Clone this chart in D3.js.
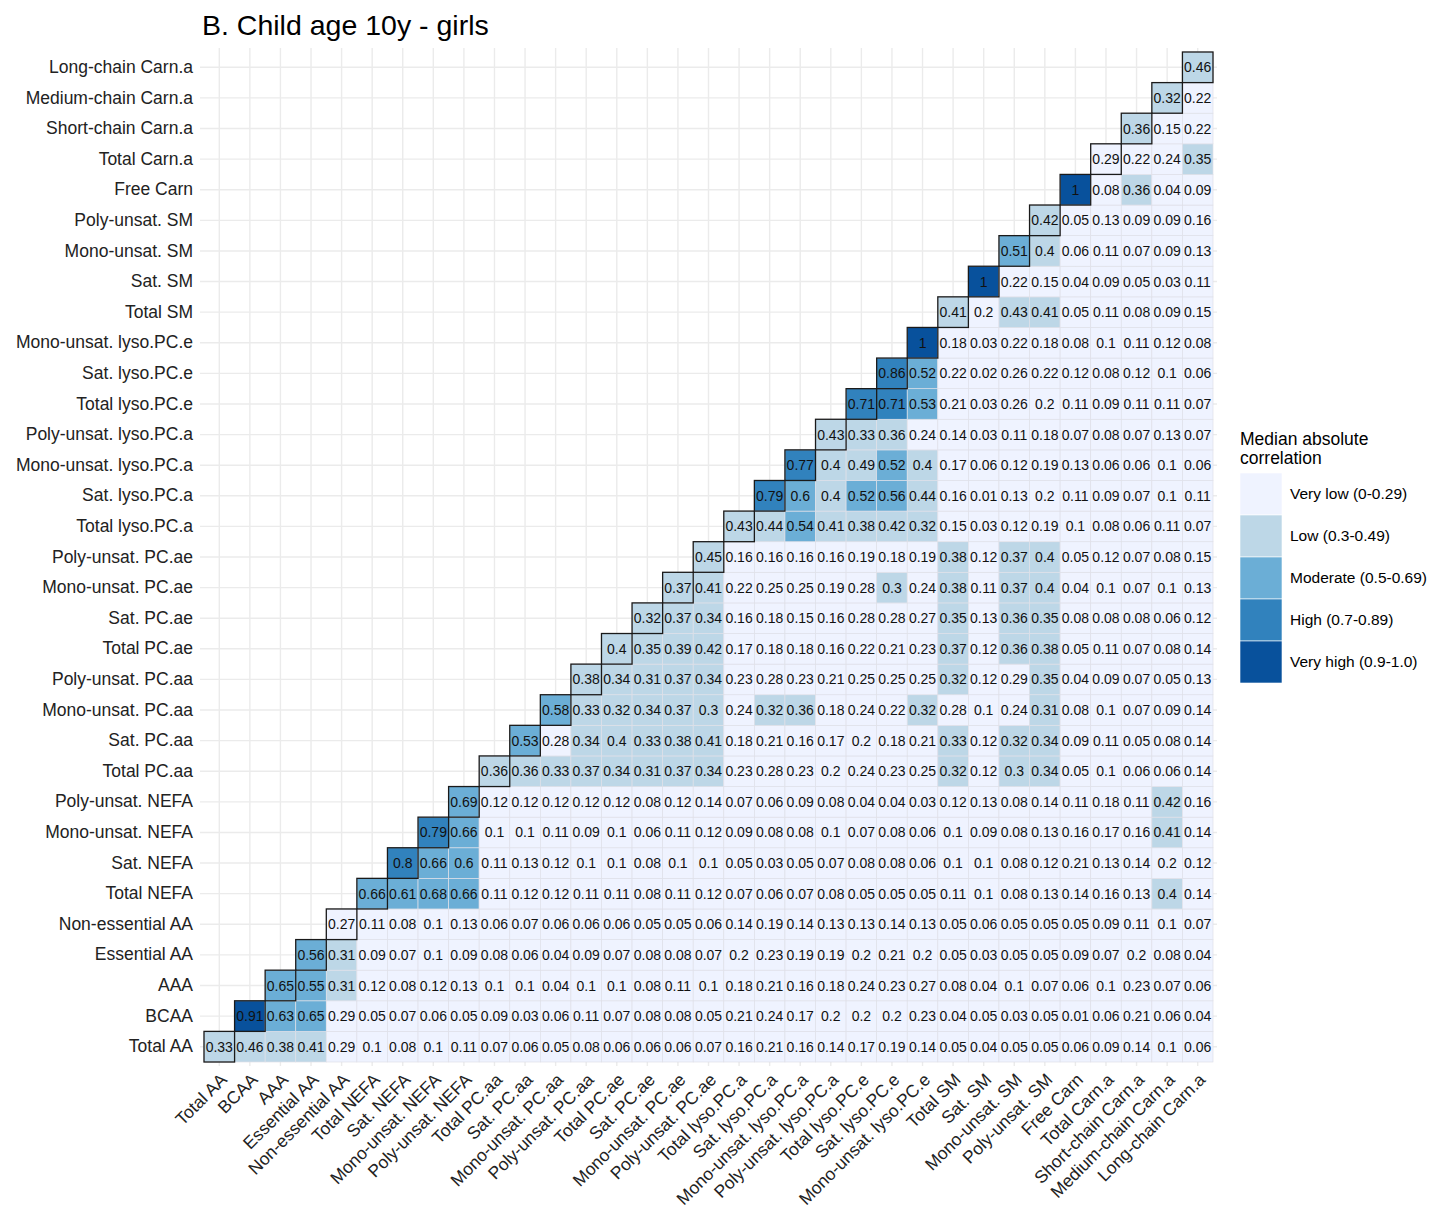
<!DOCTYPE html>
<html>
<head>
<meta charset="utf-8">
<script src="https://cdn.jsdelivr.net/npm/d3@7"></script>
<style>
    body { margin: 0; background: #fff; }
    text { font-family: "Liberation Sans", Arial, sans-serif; }
</style>
</head>
<body>
<svg id="chart" width="1436" height="1208"></svg>
<script>
const title = "B. Child age 10y - girls";

const categories = [
    "Total AA", "BCAA", "AAA", "Essential AA", "Non-essential AA",
    "Total NEFA", "Sat. NEFA", "Mono-unsat. NEFA", "Poly-unsat. NEFA",
    "Total PC.aa", "Sat. PC.aa", "Mono-unsat. PC.aa", "Poly-unsat. PC.aa",
    "Total PC.ae", "Sat. PC.ae", "Mono-unsat. PC.ae", "Poly-unsat. PC.ae",
    "Total lyso.PC.a", "Sat. lyso.PC.a", "Mono-unsat. lyso.PC.a", "Poly-unsat. lyso.PC.a",
    "Total lyso.PC.e", "Sat. lyso.PC.e", "Mono-unsat. lyso.PC.e",
    "Total SM", "Sat. SM", "Mono-unsat. SM", "Poly-unsat. SM",
    "Free Carn", "Total Carn.a", "Short-chain Carn.a", "Medium-chain Carn.a", "Long-chain Carn.a"
];

// one row per category, starting at the diagonal and running to the last column
const medians = [
    [0.33, 0.46, 0.38, 0.41, 0.29, 0.1, 0.08, 0.1, 0.11, 0.07, 0.06, 0.05, 0.08, 0.06, 0.06, 0.06, 0.07, 0.16, 0.21, 0.16, 0.14, 0.17, 0.19, 0.14, 0.05, 0.04, 0.05, 0.05, 0.06, 0.09, 0.14, 0.1, 0.06],
    [0.91, 0.63, 0.65, 0.29, 0.05, 0.07, 0.06, 0.05, 0.09, 0.03, 0.06, 0.11, 0.07, 0.08, 0.08, 0.05, 0.21, 0.24, 0.17, 0.2, 0.2, 0.2, 0.23, 0.04, 0.05, 0.03, 0.05, 0.01, 0.06, 0.21, 0.06, 0.04],
    [0.65, 0.55, 0.31, 0.12, 0.08, 0.12, 0.13, 0.1, 0.1, 0.04, 0.1, 0.1, 0.08, 0.11, 0.1, 0.18, 0.21, 0.16, 0.18, 0.24, 0.23, 0.27, 0.08, 0.04, 0.1, 0.07, 0.06, 0.1, 0.23, 0.07, 0.06],
    [0.56, 0.31, 0.09, 0.07, 0.1, 0.09, 0.08, 0.06, 0.04, 0.09, 0.07, 0.08, 0.08, 0.07, 0.2, 0.23, 0.19, 0.19, 0.2, 0.21, 0.2, 0.05, 0.03, 0.05, 0.05, 0.09, 0.07, 0.2, 0.08, 0.04],
    [0.27, 0.11, 0.08, 0.1, 0.13, 0.06, 0.07, 0.06, 0.06, 0.06, 0.05, 0.05, 0.06, 0.14, 0.19, 0.14, 0.13, 0.13, 0.14, 0.13, 0.05, 0.06, 0.05, 0.05, 0.05, 0.09, 0.11, 0.1, 0.07],
    [0.66, 0.61, 0.68, 0.66, 0.11, 0.12, 0.12, 0.11, 0.11, 0.08, 0.11, 0.12, 0.07, 0.06, 0.07, 0.08, 0.05, 0.05, 0.05, 0.11, 0.1, 0.08, 0.13, 0.14, 0.16, 0.13, 0.4, 0.14],
    [0.8, 0.66, 0.6, 0.11, 0.13, 0.12, 0.1, 0.1, 0.08, 0.1, 0.1, 0.05, 0.03, 0.05, 0.07, 0.08, 0.08, 0.06, 0.1, 0.1, 0.08, 0.12, 0.21, 0.13, 0.14, 0.2, 0.12],
    [0.79, 0.66, 0.1, 0.1, 0.11, 0.09, 0.1, 0.06, 0.11, 0.12, 0.09, 0.08, 0.08, 0.1, 0.07, 0.08, 0.06, 0.1, 0.09, 0.08, 0.13, 0.16, 0.17, 0.16, 0.41, 0.14],
    [0.69, 0.12, 0.12, 0.12, 0.12, 0.12, 0.08, 0.12, 0.14, 0.07, 0.06, 0.09, 0.08, 0.04, 0.04, 0.03, 0.12, 0.13, 0.08, 0.14, 0.11, 0.18, 0.11, 0.42, 0.16],
    [0.36, 0.36, 0.33, 0.37, 0.34, 0.31, 0.37, 0.34, 0.23, 0.28, 0.23, 0.2, 0.24, 0.23, 0.25, 0.32, 0.12, 0.3, 0.34, 0.05, 0.1, 0.06, 0.06, 0.14],
    [0.53, 0.28, 0.34, 0.4, 0.33, 0.38, 0.41, 0.18, 0.21, 0.16, 0.17, 0.2, 0.18, 0.21, 0.33, 0.12, 0.32, 0.34, 0.09, 0.11, 0.05, 0.08, 0.14],
    [0.58, 0.33, 0.32, 0.34, 0.37, 0.3, 0.24, 0.32, 0.36, 0.18, 0.24, 0.22, 0.32, 0.28, 0.1, 0.24, 0.31, 0.08, 0.1, 0.07, 0.09, 0.14],
    [0.38, 0.34, 0.31, 0.37, 0.34, 0.23, 0.28, 0.23, 0.21, 0.25, 0.25, 0.25, 0.32, 0.12, 0.29, 0.35, 0.04, 0.09, 0.07, 0.05, 0.13],
    [0.4, 0.35, 0.39, 0.42, 0.17, 0.18, 0.18, 0.16, 0.22, 0.21, 0.23, 0.37, 0.12, 0.36, 0.38, 0.05, 0.11, 0.07, 0.08, 0.14],
    [0.32, 0.37, 0.34, 0.16, 0.18, 0.15, 0.16, 0.28, 0.28, 0.27, 0.35, 0.13, 0.36, 0.35, 0.08, 0.08, 0.08, 0.06, 0.12],
    [0.37, 0.41, 0.22, 0.25, 0.25, 0.19, 0.28, 0.3, 0.24, 0.38, 0.11, 0.37, 0.4, 0.04, 0.1, 0.07, 0.1, 0.13],
    [0.45, 0.16, 0.16, 0.16, 0.16, 0.19, 0.18, 0.19, 0.38, 0.12, 0.37, 0.4, 0.05, 0.12, 0.07, 0.08, 0.15],
    [0.43, 0.44, 0.54, 0.41, 0.38, 0.42, 0.32, 0.15, 0.03, 0.12, 0.19, 0.1, 0.08, 0.06, 0.11, 0.07],
    [0.79, 0.6, 0.4, 0.52, 0.56, 0.44, 0.16, 0.01, 0.13, 0.2, 0.11, 0.09, 0.07, 0.1, 0.11],
    [0.77, 0.4, 0.49, 0.52, 0.4, 0.17, 0.06, 0.12, 0.19, 0.13, 0.06, 0.06, 0.1, 0.06],
    [0.43, 0.33, 0.36, 0.24, 0.14, 0.03, 0.11, 0.18, 0.07, 0.08, 0.07, 0.13, 0.07],
    [0.71, 0.71, 0.53, 0.21, 0.03, 0.26, 0.2, 0.11, 0.09, 0.11, 0.11, 0.07],
    [0.86, 0.52, 0.22, 0.02, 0.26, 0.22, 0.12, 0.08, 0.12, 0.1, 0.06],
    [1, 0.18, 0.03, 0.22, 0.18, 0.08, 0.1, 0.11, 0.12, 0.08],
    [0.41, 0.2, 0.43, 0.41, 0.05, 0.11, 0.08, 0.09, 0.15],
    [1, 0.22, 0.15, 0.04, 0.09, 0.05, 0.03, 0.11],
    [0.51, 0.4, 0.06, 0.11, 0.07, 0.09, 0.13],
    [0.42, 0.05, 0.13, 0.09, 0.09, 0.16],
    [1, 0.08, 0.36, 0.04, 0.09],
    [0.29, 0.22, 0.24, 0.35],
    [0.36, 0.15, 0.22],
    [0.32, 0.22],
    [0.46]
];

const legendTitle = ["Median absolute", "correlation"];
const levelLabels = ["Very low (0-0.29)", "Low (0.3-0.49)", "Moderate (0.5-0.69)", "High (0.7-0.89)", "Very high (0.9-1.0)"];
const levelBreaks = [0.3, 0.5, 0.7, 0.9];
const levelColors = ["#eff3ff", "#bdd7e7", "#6baed6", "#3182bd", "#08519c"];

const panel = { left: 204, right: 1213, top: 52, bottom: 1062 };

const svg = d3.select("#chart");

const x = d3.scaleBand().domain(categories).range([panel.left, panel.right]);
const y = d3.scaleBand().domain(categories).range([panel.bottom, panel.top]);
const fill = d3.scaleThreshold().domain(levelBreaks).range(levelColors);

const cells = [];
medians.forEach((row, i) => {
    row.forEach((v, k) => {
        cells.push({ row: categories[i], col: categories[i + k], value: v, diag: k === 0 });
    });
});

// background grid through category centres
const grid = svg.append("g").attr("class", "grid");
grid.selectAll("line.v")
    .data(categories)
    .enter().append("line")
    .attr("class", "v")
    .attr("x1", d => x(d) + x.bandwidth() / 2)
    .attr("x2", d => x(d) + x.bandwidth() / 2)
    .attr("y1", panel.top - 4)
    .attr("y2", panel.bottom + 4)
    .attr("stroke", "#ebebeb")
    .attr("stroke-width", 1.4);
grid.selectAll("line.h")
    .data(categories)
    .enter().append("line")
    .attr("class", "h")
    .attr("y1", d => y(d) + y.bandwidth() / 2)
    .attr("y2", d => y(d) + y.bandwidth() / 2)
    .attr("x1", panel.left - 4)
    .attr("x2", panel.right + 4)
    .attr("stroke", "#ebebeb")
    .attr("stroke-width", 1.4);

// tiles
svg.append("g")
    .selectAll("rect")
    .data(cells)
    .enter().append("rect")
    .attr("x", d => x(d.col))
    .attr("y", d => y(d.row))
    .attr("width", x.bandwidth())
    .attr("height", y.bandwidth())
    .attr("fill", d => fill(d.value))
    .attr("stroke", "#dfe0e8")
    .attr("stroke-width", 0.7);

// outline of the diagonal
svg.append("g")
    .selectAll("rect")
    .data(cells.filter(d => d.diag))
    .enter().append("rect")
    .attr("x", d => x(d.col))
    .attr("y", d => y(d.row))
    .attr("width", x.bandwidth())
    .attr("height", y.bandwidth())
    .attr("fill", "none")
    .attr("stroke", "#1a1a1a")
    .attr("stroke-width", 1.3);

// cell labels
svg.append("g")
    .selectAll("text")
    .data(cells)
    .enter().append("text")
    .attr("x", d => x(d.col) + x.bandwidth() / 2)
    .attr("y", d => y(d.row) + y.bandwidth() / 2)
    .attr("dy", "0.36em")
    .attr("text-anchor", "middle")
    .attr("font-size", 14)
    .attr("fill", "#111")
    .text(d => String(d.value));

// axes
const yAxis = svg.append("g")
    .attr("transform", `translate(${panel.left},0)`)
    .call(d3.axisLeft(y).tickSize(0).tickPadding(11));
yAxis.select(".domain").remove();
yAxis.selectAll("text")
    .attr("font-size", 17.5)
    .attr("font-family", "Liberation Sans, Arial, sans-serif")
    .attr("fill", "#222");

const xAxis = svg.append("g")
    .attr("transform", `translate(0,${panel.bottom})`)
    .call(d3.axisBottom(x).tickSize(0));
xAxis.select(".domain").remove();
xAxis.selectAll("text")
    .attr("x", 0)
    .attr("y", 0)
    .attr("dy", "0.71em")
    .attr("transform", "translate(0,10) rotate(-45)")
    .attr("text-anchor", "end")
    .attr("font-size", 17.5)
    .attr("font-family", "Liberation Sans, Arial, sans-serif")
    .attr("fill", "#222");

// title
svg.append("text")
    .attr("x", 202)
    .attr("y", 35)
    .attr("font-size", 28.5)
    .attr("fill", "#000")
    .text(title);

// legend
const legend = svg.append("g").attr("transform", "translate(1240,0)");
legend.selectAll("text.title")
    .data(legendTitle)
    .enter().append("text")
    .attr("class", "title")
    .attr("x", 0)
    .attr("y", (d, i) => 445 + i * 19)
    .attr("font-size", 17.5)
    .attr("fill", "#000")
    .text(d => d);

const keySize = 42;
const keys = legend.selectAll("g.key")
    .data(levelLabels)
    .enter().append("g")
    .attr("class", "key")
    .attr("transform", (d, i) => `translate(0,${473 + i * keySize})`);
keys.append("rect")
    .attr("width", keySize)
    .attr("height", keySize)
    .attr("fill", (d, i) => levelColors[i])
    .attr("stroke", "#fff")
    .attr("stroke-width", 0.6);
keys.append("text")
    .attr("x", 50)
    .attr("y", keySize / 2)
    .attr("dy", "0.35em")
    .attr("font-size", 15.5)
    .attr("fill", "#000")
    .text(d => d);
</script>
</body>
</html>
